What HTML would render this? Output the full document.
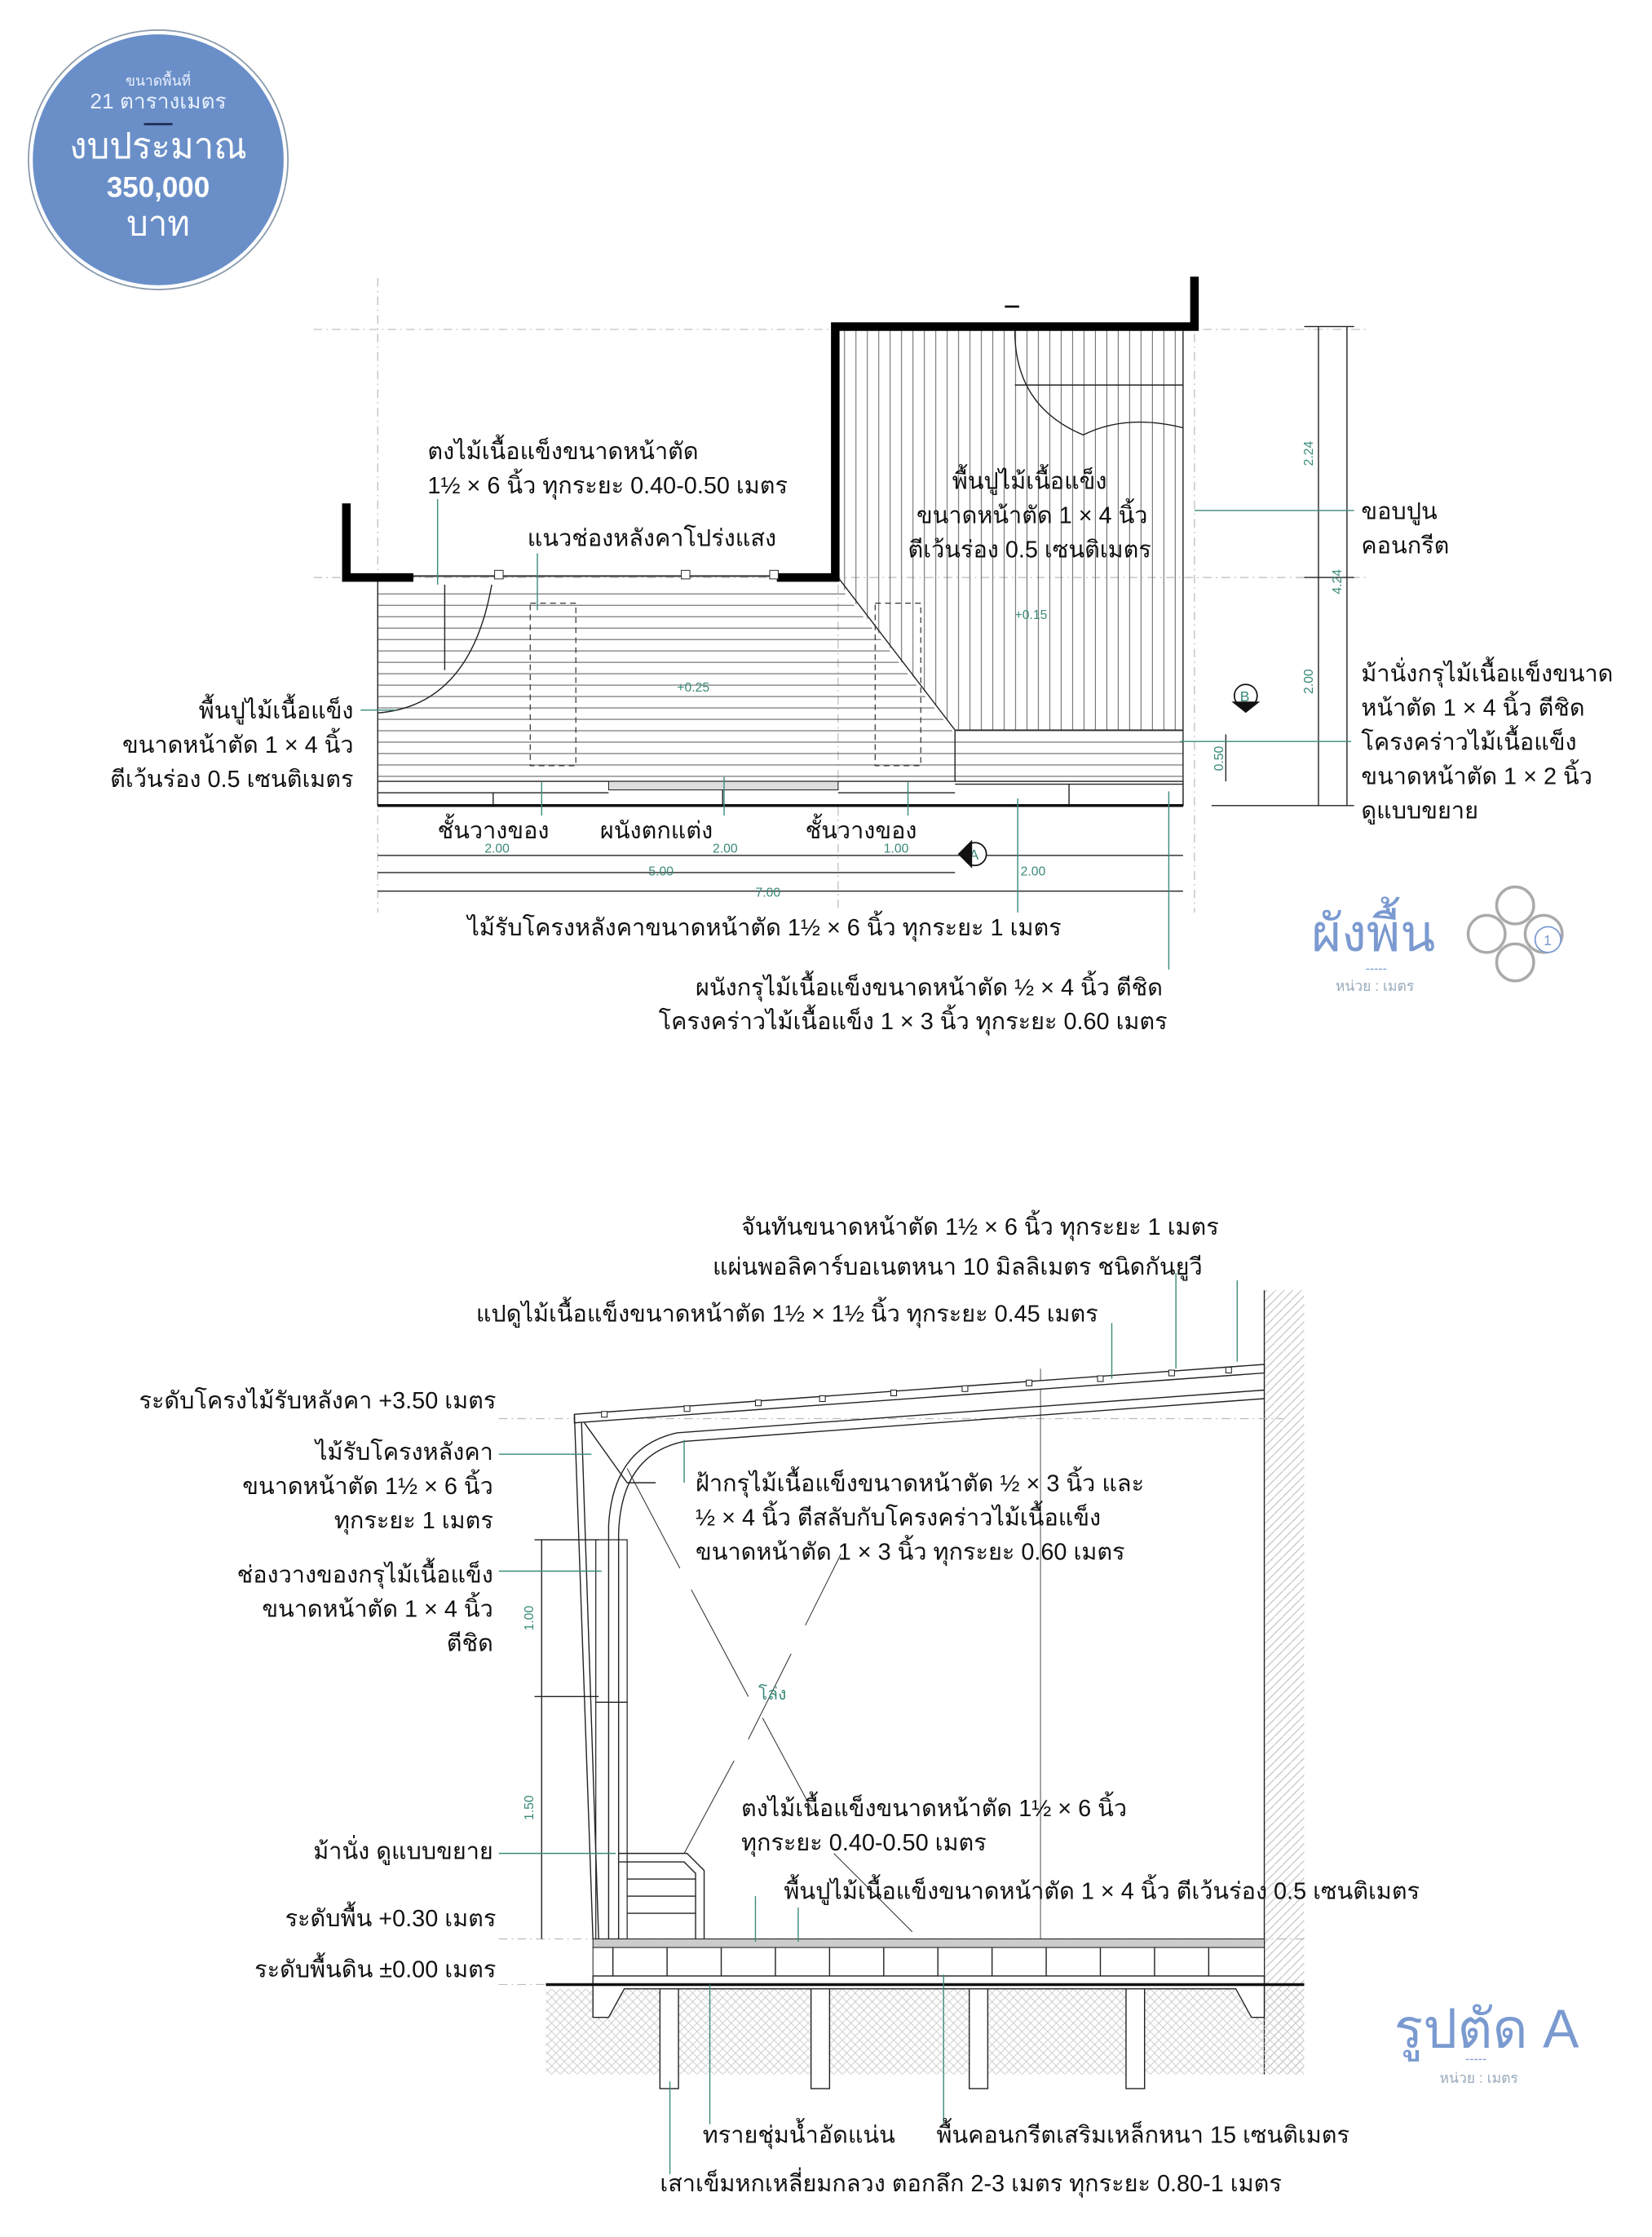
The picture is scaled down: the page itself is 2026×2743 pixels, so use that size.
<!DOCTYPE html>
<html><head><meta charset="utf-8"><style>
html,body{margin:0;padding:0;background:#fff}
svg{display:block}
text{font-family:"Liberation Sans","DejaVu Sans","Noto Sans CJK SC",sans-serif;fill:#111}
.l{font-size:16.5px}
.g{fill:#3a8a7a;font-size:9px}
.gl{stroke:#3a8a7a;stroke-width:0.8;fill:none}
.t{stroke:#222;stroke-width:0.8;fill:none}
.d{stroke:#bbb;stroke-width:0.7;stroke-dasharray:6 3 1 3;fill:none}
</style></head><body>
<svg width="2026" height="2743" viewBox="0 0 1159 1569" xmlns="http://www.w3.org/2000/svg">
<defs>
<pattern id="hz" width="10" height="8" patternUnits="userSpaceOnUse"><line x1="0" y1="0.5" x2="10" y2="0.5" stroke="#555" stroke-width="0.6"/></pattern>
<pattern id="vt" width="8" height="10" patternUnits="userSpaceOnUse"><line x1="0.5" y1="0" x2="0.5" y2="10" stroke="#666" stroke-width="0.6"/></pattern>
<pattern id="soil" width="6" height="6" patternUnits="userSpaceOnUse"><path d="M0 6 L6 0 M0 0 L6 6" stroke="#c8c8c8" stroke-width="0.5"/></pattern>
<pattern id="diag" width="6" height="6" patternUnits="userSpaceOnUse"><path d="M0 6 L6 0" stroke="#bbb" stroke-width="0.6"/></pattern>
</defs>

<!-- badge -->
<circle cx="111" cy="112" r="91" fill="#fff" stroke="#8899aa" stroke-width="1"/>
<circle cx="111" cy="112" r="88" fill="#6a8fc8"/>
<text x="111" y="60" text-anchor="middle" style="font-size:10px;fill:#e8f0ff">ขนาดพื้นที่</text>
<text x="111" y="76" text-anchor="middle" style="font-size:15px;fill:#e8f0ff">21 ตารางเมตร</text>
<line x1="101" y1="87" x2="121" y2="87" stroke="#1a2a50" stroke-width="1.5"/>
<text x="111" y="111" text-anchor="middle" style="font-size:25px;fill:#fff">งบประมาณ</text>
<text x="111" y="138" text-anchor="middle" style="font-size:20px;font-weight:bold;fill:#fff">350,000</text>
<text x="111" y="165" text-anchor="middle" style="font-size:24px;fill:#fff">บาท</text>

<!-- ========== PLAN ========== -->
<line class="d" x1="220" y1="231" x2="960" y2="231"/>
<line class="d" x1="220" y1="405" x2="960" y2="405"/>
<line class="d" x1="265" y1="195" x2="265" y2="640"/>
<line class="d" x1="838" y1="195" x2="838" y2="640"/>
<line class="d" x1="588" y1="410" x2="588" y2="640"/>

<polygon points="265,410 588,410 670,515 670,548 265,548" fill="url(#hz)"/>
<polygon points="588,232 830,232 830,512 670,512 588,408" fill="url(#vt)"/>
<rect x="670" y="512" width="160" height="36" fill="url(#hz)"/>
<line class="t" x1="588" y1="405" x2="670" y2="512"/>
<line class="t" x1="670" y1="512" x2="670" y2="565"/>
<line class="t" x1="670" y1="512" x2="830" y2="512"/>
<line class="t" x1="830" y1="232" x2="830" y2="565"/>
<line class="t" x1="265" y1="405" x2="265" y2="565"/>
<!-- door arcs -->
<path d="M265 500 Q330 495 345 410" class="t" fill="#fff"/>
<path d="M312 410 L312 470" class="t"/>
<path d="M712 232 Q712 285 760 305 Q790 290 830 300" class="t" fill="#fff"/>
<rect x="712" y="232" width="118" height="72" fill="#fff" opacity="0.0"/>
<line class="t" x1="712" y1="270" x2="830" y2="270"/>
<!-- dashed rects -->
<rect x="372" y="423" width="32" height="114" fill="none" stroke="#333" stroke-width="0.7" stroke-dasharray="4 3"/>
<rect x="614" y="423" width="32" height="114" fill="none" stroke="#333" stroke-width="0.7" stroke-dasharray="4 3"/>
<!-- bottom shelves -->
<rect x="265" y="548" width="565" height="17" fill="#fff" stroke="#222" stroke-width="0.8"/>
<line class="t" x1="265" y1="556" x2="427" y2="556"/><line class="t" x1="588" y1="556" x2="670" y2="556"/>
<rect x="427" y="548" width="161" height="6" fill="#ddd" stroke="#222" stroke-width="0.6"/>
<line class="t" x1="346" y1="556" x2="346" y2="565"/><line class="t" x1="507" y1="554" x2="507" y2="565"/>
<line class="t" x1="750" y1="550" x2="750" y2="565"/><line class="t" x1="670" y1="550" x2="830" y2="550"/>
<line x1="265" y1="565" x2="830" y2="565" stroke="#111" stroke-width="2"/>
<!-- walls -->
<path d="M243 353 L243 405 L290 405" fill="none" stroke="#000" stroke-width="6"/>
<path d="M545 405 L586 405 L586 229 L838 229 L838 194" fill="none" stroke="#000" stroke-width="6"/>
<line x1="290" y1="404" x2="545" y2="404" stroke="#333" stroke-width="1.2"/>
<rect x="347" y="400" width="6" height="6" fill="#fff" stroke="#333" stroke-width="0.6"/>
<rect x="478" y="400" width="6" height="6" fill="#fff" stroke="#333" stroke-width="0.6"/>
<rect x="540" y="400" width="6" height="6" fill="#fff" stroke="#333" stroke-width="0.6"/>
<line x1="705" y1="215" x2="715" y2="215" stroke="#000" stroke-width="1.5"/>
<!-- levels -->
<text class="g" x="475" y="485">+0.25</text>
<text class="g" x="712" y="434">+0.15</text>
<!-- dims -->
<line class="t" x1="265" y1="600" x2="830" y2="600"/>
<line class="t" x1="265" y1="612" x2="670" y2="612"/>
<line class="t" x1="265" y1="625" x2="830" y2="625"/>
<text class="g" x="340" y="598">2.00</text><text class="g" x="500" y="598">2.00</text><text class="g" x="620" y="598">1.00</text><text class="g" x="716" y="614">2.00</text>
<text class="g" x="455" y="614">5.00</text><text class="g" x="530" y="629">7.00</text>
<line class="t" x1="925" y1="229" x2="925" y2="565"/>
<line class="t" x1="945" y1="229" x2="945" y2="565"/>
<line class="t" x1="860" y1="515" x2="860" y2="548"/>
<line class="t" x1="915" y1="229" x2="950" y2="229"/><line class="t" x1="915" y1="405" x2="950" y2="405"/><line class="t" x1="850" y1="565" x2="950" y2="565"/>
<text class="g" transform="translate(921,318) rotate(-90)" text-anchor="middle">2.24</text>
<text class="g" transform="translate(941,408) rotate(-90)" text-anchor="middle">4.24</text>
<text class="g" transform="translate(921,478) rotate(-90)" text-anchor="middle">2.00</text>
<text class="g" transform="translate(858,532) rotate(-90)" text-anchor="middle">0.50</text>
<!-- section markers -->
<circle cx="684" cy="599" r="8" fill="#fff" stroke="#111" stroke-width="1"/><text x="680" y="603" style="font-size:10px;fill:#3a8a7a">A</text>
<path d="M672 599 L682 589 L682 609 Z" fill="#111"/>
<circle cx="874" cy="488" r="8" fill="#fff" stroke="#111" stroke-width="1"/><text x="870" y="492" style="font-size:10px;fill:#3a8a7a">B</text>
<path d="M864 492 L884 492 L874 500 Z" fill="#111"/>
<!-- leader lines -->
<path class="gl" d="M307 350 V410"/><path class="gl" d="M377 388 V428"/>
<path class="gl" d="M253 498 H278"/><path class="gl" d="M380 548 V572"/><path class="gl" d="M508 545 V572"/><path class="gl" d="M637 548 V572"/>
<path class="gl" d="M838 358 H950"/><path class="gl" d="M828 520 H948"/>
<path class="gl" d="M714 560 V640"/><path class="gl" d="M820 555 V680"/>
<!-- labels -->
<text class="l" x="300" y="322">ตงไม้เนื้อแข็งขนาดหน้าตัด</text>
<text class="l" x="300" y="346">1½ × 6 นิ้ว  ทุกระยะ 0.40-0.50 เมตร</text>
<text class="l" x="370" y="383">แนวช่องหลังคาโปร่งแสง</text>
<text class="l" x="668" y="343">พื้นปูไม้เนื้อแข็ง</text>
<text class="l" x="643" y="367">ขนาดหน้าตัด 1 × 4 นิ้ว</text>
<text class="l" x="637" y="391">ตีเว้นร่อง 0.5 เซนติเมตร</text>
<text class="l" x="955" y="364">ขอบปูน</text>
<text class="l" x="955" y="388">คอนกรีต</text>
<text class="l" x="955" y="478">ม้านั่งกรุไม้เนื้อแข็งขนาด</text>
<text class="l" x="955" y="502">หน้าตัด 1 × 4 นิ้ว  ตีชิด</text>
<text class="l" x="955" y="526">โครงคร่าวไม้เนื้อแข็ง</text>
<text class="l" x="955" y="550">ขนาดหน้าตัด 1 × 2 นิ้ว</text>
<text class="l" x="955" y="574">ดูแบบขยาย</text>
<text class="l" x="248" y="504" text-anchor="end">พื้นปูไม้เนื้อแข็ง</text>
<text class="l" x="248" y="528" text-anchor="end">ขนาดหน้าตัด 1 × 4 นิ้ว</text>
<text class="l" x="248" y="552" text-anchor="end">ตีเว้นร่อง 0.5 เซนติเมตร</text>
<text class="l" x="307" y="588">ชั้นวางของ</text>
<text class="l" x="421" y="588">ผนังตกแต่ง</text>
<text class="l" x="565" y="588">ชั้นวางของ</text>
<text class="l" x="328" y="656">ไม้รับโครงหลังคาขนาดหน้าตัด 1½ × 6 นิ้ว  ทุกระยะ 1 เมตร</text>
<text class="l" x="488" y="698">ผนังกรุไม้เนื้อแข็งขนาดหน้าตัด ½ × 4 นิ้ว  ตีชิด</text>
<text class="l" x="462" y="722">โครงคร่าวไม้เนื้อแข็ง 1 × 3 นิ้ว  ทุกระยะ 0.60 เมตร</text>
<!-- plan title -->
<text x="920" y="667" style="font-size:36px;fill:#7a9ad0">ผังพื้น</text>
<text x="958" y="682" style="font-size:9px;fill:#7a9ad0">-----</text>
<text x="937" y="695" style="font-size:10px;fill:#9ab">หน่วย : เมตร</text>
<g fill="none" stroke="#aaa" stroke-width="2">
<circle cx="1063" cy="635" r="13"/><circle cx="1063" cy="675" r="13"/><circle cx="1043" cy="655" r="13"/><circle cx="1083" cy="655" r="13"/>
</g>
<circle cx="1086" cy="659" r="9" fill="#fff" stroke="#7a9ad0"/><text x="1083" y="663" style="font-size:10px;fill:#7a9ad0">1</text>

<!-- ========== SECTION ========== -->
<rect x="887" y="905" width="28" height="550" fill="url(#diag)"/>
<line class="t" x1="887" y1="905" x2="887" y2="1455"/>
<rect x="383" y="1395" width="532" height="60" fill="url(#soil)"/>
<line class="d" x1="350" y1="995" x2="900" y2="995"/>
<line class="d" x1="350" y1="1360" x2="915" y2="1360"/>
<line class="d" x1="350" y1="1392" x2="383" y2="1392"/>
<line x1="730" y1="960" x2="730" y2="1360" stroke="#555" stroke-width="0.6"/>
<!-- roof -->
<path d="M403 992 L887 957 L887 963 L403 998 Z" fill="#fff" stroke="#222" stroke-width="0.8"/>
<path d="M403 992 L416 1360" class="t"/><path d="M408 998 L420 1360" class="t"/>
<path d="M887 975 L475 1005 Q430 1015 427 1070 L427 1360" class="t"/>
<path d="M887 981 L480 1011 Q436 1020 434 1075 L434 1360" class="t"/>
<path d="M410 998 L440 1040 L460 1040" class="t"/>
<!-- ceiling blocks -->
<g fill="#fff" stroke="#222" stroke-width="0.6">
<rect x="422" y="990" width="4" height="4"/><rect x="480" y="986" width="4" height="4"/><rect x="530" y="982" width="4" height="4"/><rect x="575" y="979" width="4" height="4"/><rect x="625" y="975" width="4" height="4"/><rect x="675" y="972" width="4" height="4"/><rect x="720" y="968" width="4" height="4"/><rect x="770" y="965" width="4" height="4"/><rect x="820" y="961" width="4" height="4"/><rect x="860" y="959" width="4" height="4"/>
</g>
<!-- shelves / wall -->
<rect x="418" y="1080" width="22" height="114" fill="none" stroke="#222" stroke-width="0.7"/>
<rect x="418" y="1194" width="22" height="166" fill="none" stroke="#222" stroke-width="0.7"/>
<!-- bench -->
<path d="M434 1300 L482 1300 L494 1312 L494 1360" class="t"/><path d="M434 1306 L480 1306 L488 1314 L488 1360" class="t"/>
<line class="t" x1="440" y1="1318" x2="488" y2="1318"/><line class="t" x1="440" y1="1330" x2="488" y2="1330"/><line class="t" x1="440" y1="1342" x2="488" y2="1342"/>
<!-- void X -->
<g stroke="#333" stroke-width="0.6">
<line x1="440" y1="1030" x2="477" y2="1100"/><line x1="485" y1="1115" x2="525" y2="1190"/><line x1="535" y1="1205" x2="570" y2="1270"/><line x1="585" y1="1300" x2="640" y2="1355"/>
<line x1="590" y1="1090" x2="565" y2="1140"/><line x1="555" y1="1160" x2="525" y2="1220"/><line x1="515" y1="1235" x2="480" y2="1300"/>
</g>
<text x="532" y="1192" style="font-size:12px;fill:#3a8a7a">โล่ง</text>
<!-- floor -->
<rect x="416" y="1360" width="471" height="6" fill="#ccc" stroke="#222" stroke-width="0.6"/>
<rect x="416" y="1366" width="471" height="20" fill="#fff" stroke="#222" stroke-width="0.6"/>
<g class="t">
<path d="M430 1366 V1386 M468 1366 V1386 M506 1366 V1386 M544 1366 V1386 M582 1366 V1386 M620 1366 V1386 M658 1366 V1386 M696 1366 V1386 M734 1366 V1386 M772 1366 V1386 M810 1366 V1386 M848 1366 V1386"/>
</g>
<path d="M416 1386 L887 1386 L887 1415 L878 1415 L867 1395 L438 1395 L427 1415 L416 1415 Z" fill="#fff" stroke="#222" stroke-width="0.8"/>
<line x1="383" y1="1392" x2="915" y2="1392" stroke="#111" stroke-width="2"/>
<g fill="#fff" stroke="#222" stroke-width="0.8">
<rect x="463" y="1395" width="13" height="70"/><rect x="569" y="1395" width="13" height="70"/><rect x="680" y="1395" width="13" height="70"/><rect x="790" y="1395" width="13" height="70"/>
</g>
<!-- dims -->
<line class="t" x1="380" y1="1080" x2="380" y2="1360"/>
<line class="t" x1="375" y1="1080" x2="420" y2="1080"/><line class="t" x1="375" y1="1190" x2="420" y2="1190"/>
<text class="g" transform="translate(374,1135) rotate(-90)" text-anchor="middle">1.00</text>
<text class="g" transform="translate(374,1268) rotate(-90)" text-anchor="middle">1.50</text>
<!-- leaders -->
<g class="gl">
<path d="M825 893 V960"/><path d="M868 898 V955"/><path d="M780 928 V967"/>
<path d="M350 1020 H415"/><path d="M350 1102 H422"/><path d="M350 1300 H432"/>
<path d="M480 1010 V1040"/><path d="M530 1330 V1362"/><path d="M560 1338 V1362"/>
<path d="M470 1460 V1525"/><path d="M498 1392 V1490"/><path d="M662 1385 V1490"/>
</g>
<!-- labels -->
<text class="l" x="520" y="866">จันทันขนาดหน้าตัด 1½ × 6 นิ้ว  ทุกระยะ 1 เมตร</text>
<text class="l" x="500" y="894">แผ่นพอลิคาร์บอเนตหนา 10 มิลลิเมตร  ชนิดกันยูวี</text>
<text class="l" x="334" y="927">แปดูไม้เนื้อแข็งขนาดหน้าตัด 1½ × 1½  นิ้ว  ทุกระยะ 0.45 เมตร</text>
<text class="l" x="348" y="988" text-anchor="end">ระดับโครงไม้รับหลังคา +3.50 เมตร</text>
<text class="l" x="346" y="1024" text-anchor="end">ไม้รับโครงหลังคา</text>
<text class="l" x="346" y="1048" text-anchor="end">ขนาดหน้าตัด 1½ × 6 นิ้ว</text>
<text class="l" x="346" y="1072" text-anchor="end">ทุกระยะ 1 เมตร</text>
<text class="l" x="346" y="1110" text-anchor="end">ช่องวางของกรุไม้เนื้อแข็ง</text>
<text class="l" x="346" y="1134" text-anchor="end">ขนาดหน้าตัด 1 × 4 นิ้ว</text>
<text class="l" x="346" y="1158" text-anchor="end">ตีชิด</text>
<text class="l" x="346" y="1304" text-anchor="end">ม้านั่ง  ดูแบบขยาย</text>
<text class="l" x="348" y="1351" text-anchor="end">ระดับพื้น +0.30 เมตร</text>
<text class="l" x="348" y="1387" text-anchor="end">ระดับพื้นดิน ±0.00 เมตร</text>
<text class="l" x="488" y="1046">ฝ้ากรุไม้เนื้อแข็งขนาดหน้าตัด ½ × 3 นิ้ว  และ</text>
<text class="l" x="488" y="1070">½ × 4 นิ้ว  ตีสลับกับโครงคร่าวไม้เนื้อแข็ง</text>
<text class="l" x="488" y="1094">ขนาดหน้าตัด 1 × 3 นิ้ว  ทุกระยะ 0.60 เมตร</text>
<text class="l" x="520" y="1274">ตงไม้เนื้อแข็งขนาดหน้าตัด 1½ × 6 นิ้ว</text>
<text class="l" x="520" y="1298">ทุกระยะ 0.40-0.50 เมตร</text>
<text class="l" x="550" y="1332">พื้นปูไม้เนื้อแข็งขนาดหน้าตัด 1 × 4 นิ้ว  ตีเว้นร่อง 0.5 เซนติเมตร</text>
<text class="l" x="493" y="1503">ทรายชุ่มน้ำอัดแน่น</text>
<text class="l" x="657" y="1503">พื้นคอนกรีตเสริมเหล็กหนา 15 เซนติเมตร</text>
<text class="l" x="463" y="1537">เสาเข็มหกเหลี่ยมกลวง  ตอกลึก 2-3 เมตร  ทุกระยะ 0.80-1 เมตร</text>
<text x="978" y="1436" style="font-size:38px;fill:#7a9ad0">รูปตัด A</text>
<text x="1028" y="1447" style="font-size:9px;fill:#7a9ad0">-----</text>
<text x="1010" y="1461" style="font-size:10px;fill:#9ab">หน่วย : เมตร</text>
</svg>
</body></html>
